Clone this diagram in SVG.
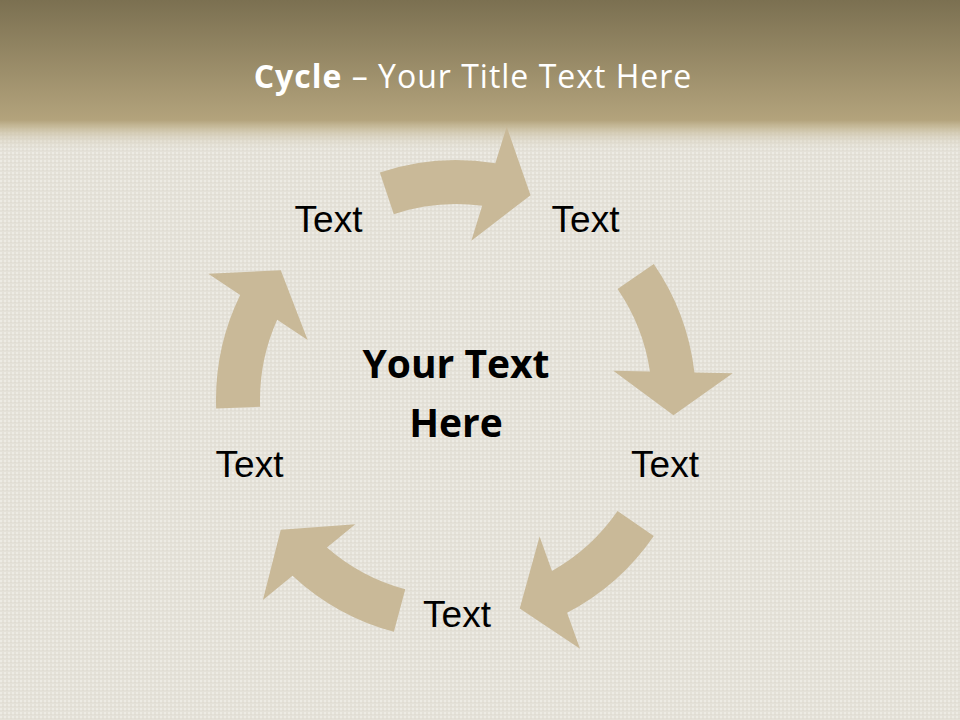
<svg xmlns="http://www.w3.org/2000/svg" xmlns:xlink="http://www.w3.org/1999/xlink" width="960" height="720" viewBox="0 0 960 720">
  <defs>
    <linearGradient id="hdr" x1="0" y1="0" x2="0" y2="1">
      <stop offset="0" stop-color="#7b7051"/>
      <stop offset="0.79" stop-color="#b3a37c"/>
      <stop offset="0.84" stop-color="#c4b794" stop-opacity="0.85"/>
      <stop offset="1" stop-color="#e6e3da" stop-opacity="0"/>
    </linearGradient>
    <pattern id="linen" x="0" y="0" width="4" height="4" patternUnits="userSpaceOnUse">
      <rect width="4" height="4" fill="#e4e1d8"/>
      <rect x="0" y="0" width="2" height="2" fill="#edebe4"/>
      <rect x="2" y="2" width="2" height="1" fill="#dbd7cb" opacity="0.5"/>
    </pattern>
    <path id="arr" d="M 240 0 A 240 240 0 0 1 212.04 112.43 L 243.14 134.78 L 170.6 135.7 L 146.17 65.08 L 175.91 86.46 A 196 196 0 0 0 196 0 Z"/>
    <style>
      .arrow { fill: #c9b998; }
      .lbl { font-family: "Liberation Sans", Arial, sans-serif; font-size: 37px; fill: #000; text-anchor: middle; }
      .ctr { font-family: "Open Sans", "Liberation Sans", sans-serif; font-size: 39px; font-weight: bold; fill: #000; text-anchor: middle; }
      .ttl { font-family: "Open Sans", "Liberation Sans", sans-serif; font-size: 32px; letter-spacing: 1px; fill: #ffffff; text-anchor: middle; }
    </style>
  </defs>

  <rect width="960" height="720" fill="url(#linen)"/>
  <rect width="960" height="152" fill="url(#hdr)"/>

  <g id="title">
    <text class="ttl" x="473" y="88"><tspan font-weight="bold">Cycle</tspan> – Your Title Text Here</text>
  </g>

  <g id="connectors">
    <use xlink:href="#arr" class="arrow" transform="translate(456 400) rotate(-108.5)"/>
    <use xlink:href="#arr" class="arrow" transform="translate(456 400) rotate(-34.5)"/>
    <use xlink:href="#arr" class="arrow" transform="translate(456 400) rotate(34.5)"/>
    <use xlink:href="#arr" class="arrow" transform="translate(456 400) rotate(105)"/>
    <use xlink:href="#arr" class="arrow" transform="translate(456 400) rotate(178)"/>
  </g>

  <g id="center">
    <text class="ctr" x="456" y="378">Your Text</text>
    <text class="ctr" x="456" y="437">Here</text>
  </g>
  <g id="node-top-left"><text class="lbl" x="328.5" y="232">Text</text></g>
  <g id="node-top-right"><text class="lbl" x="585.5" y="232">Text</text></g>
  <g id="node-right"><text class="lbl" x="665" y="477">Text</text></g>
  <g id="node-bottom"><text class="lbl" x="457" y="627">Text</text></g>
  <g id="node-left"><text class="lbl" x="249.5" y="477">Text</text></g>
</svg>
